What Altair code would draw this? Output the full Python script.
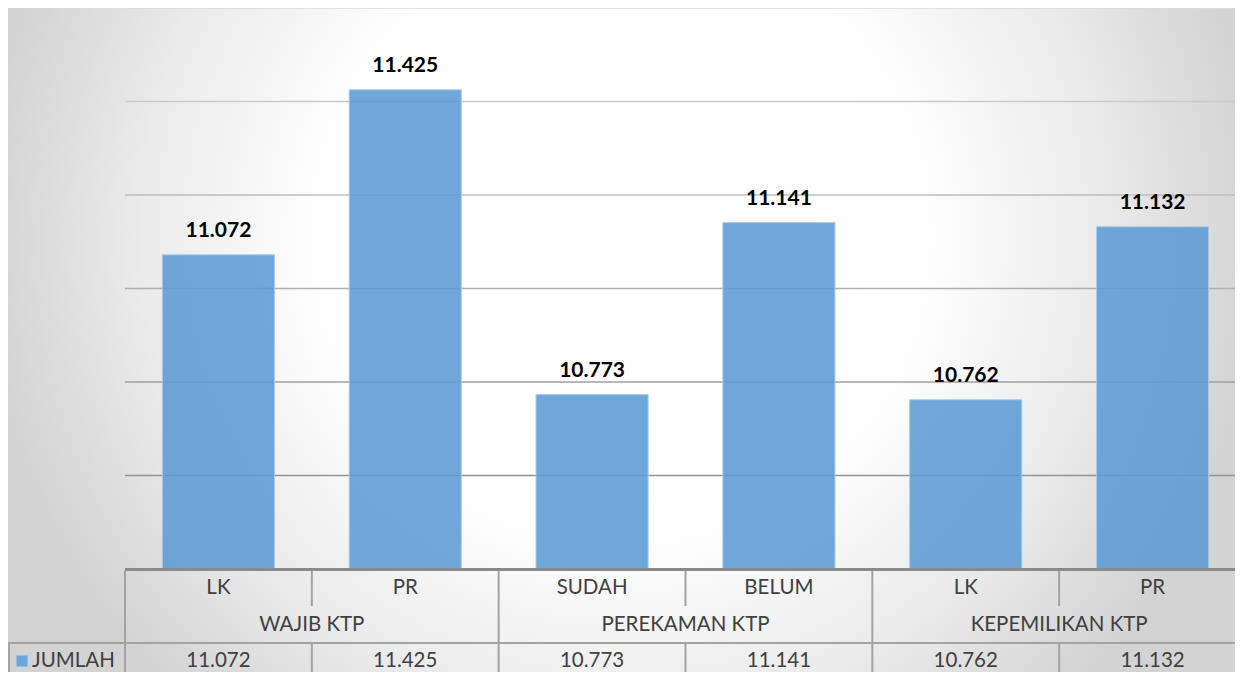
import altair as alt
import pandas as pd

# ---- data ----
groups = ["WAJIB KTP", "WAJIB KTP", "PEREKAMAN KTP", "PEREKAMAN KTP", "KEPEMILIKAN KTP", "KEPEMILIKAN KTP"]
categories = ["LK", "PR", "SUDAH", "BELUM", "LK", "PR"]
values = [11072, 11425, 10773, 11141, 10762, 11132]
y_ticks = [10400, 10600, 10800, 11000, 11200, 11400, 11600]
series_name = "JUMLAH"

keys = [f"{g}|{c}" for g, c in zip(groups, categories)]
pos_in_group = []
seen = {}
for g in groups:
    pos_in_group.append(seen.get(g, 0))
    seen[g] = seen.get(g, 0) + 1

df = pd.DataFrame({
    "key": keys,
    "group": groups,
    "cat": categories,
    "value": values,
    "pos": pos_in_group,
    "label": [f"{v:,}".replace(",", ".") for v in values],
})
group_df = df[df["pos"] == 0][["key", "group"]]
grid_df = pd.DataFrame({"v": y_ticks})
one = pd.DataFrame({"a": [0]})

W, H = 1227, 664          # canvas (fits the window with the 8px page margin)
PLOT_L = 117
RANGE_R = 1238            # x scale continues past the visible edge, as in the reference
AXIS_Y = 561
FONT = "Lato"
TXT = "#404040"
LINE = "#a3a3a3"
BAR = "#5b9bd5"

xs = alt.Scale(type="band", domain=keys, range=[PLOT_L, RANGE_R], paddingInner=0, paddingOuter=0)
ys = alt.Scale(domain=[y_ticks[0], y_ticks[-1]], range=[AXIS_Y, 0], zero=False, nice=False)


def X(f, bp=None):
    if bp is None:
        return alt.X(f, scale=xs, axis=None)
    return alt.X(f, scale=xs, axis=None, bandPosition=bp)


# background: soft radial highlight (rect extends below the canvas to keep the glow round)
bg = alt.Chart(one).mark_rect(
    fill=alt.RadialGradient(
        gradient="radial",
        stops=[alt.GradientStop(color="#ffffff", offset=0),
               alt.GradientStop(color="#fefefe", offset=0.48),
               alt.GradientStop(color="#ebebeb", offset=0.75),
               alt.GradientStop(color="#d3d3d3", offset=1)],
        x1=0.5, y1=0.4, r1=0, x2=0.5, y2=0.4, r2=0.52),
).encode(x=alt.value(0), x2=alt.value(W), y=alt.value(-150), y2=alt.value(850))

grid = alt.Chart(grid_df).transform_filter(alt.datum.v > y_ticks[0]).mark_rule(strokeWidth=1.5).encode(
    y=alt.Y("v:Q", scale=ys, axis=None),
    x=alt.value(PLOT_L), x2=alt.value(W),
    color=alt.Color("v:Q", scale=alt.Scale(domain=[y_ticks[0], y_ticks[-1]], range=["#858585", "#dadada"]), legend=None),
)

bars = alt.Chart(df).mark_bar(width=alt.RelativeBandSize(0.6), color=BAR, fillOpacity=0.88,
                              stroke="#a8cbec", strokeWidth=1).encode(
    x=X("key:N"),
    y=alt.Y("value:Q", scale=ys, axis=None),
    y2=alt.datum(y_ticks[0]),
)

bar_labels = alt.Chart(df).mark_text(font=FONT, fontSize=21, fontWeight="bold", color="#000000",
                                     baseline="alphabetic", dy=-18).encode(
    x=X("key:N"), y=alt.Y("value:Q", scale=ys, axis=None), text="label:N")

axis_line = alt.Chart(one).mark_rule(color="#8a8a8a", strokeWidth=3).encode(
    x=alt.value(PLOT_L), x2=alt.value(W), y=alt.value(AXIS_Y + 0.5))

row_line = alt.Chart(one).mark_rule(color=LINE, strokeWidth=2).encode(
    x=alt.value(0), x2=alt.value(W), y=alt.value(635))
left_box = alt.Chart(one).mark_rule(color=LINE, strokeWidth=2).encode(
    x=alt.value(1), y=alt.value(635), y2=alt.value(H))

group_div = alt.Chart(df).transform_filter(alt.datum.pos == 0).mark_rule(color=LINE, strokeWidth=2).encode(
    x=X("key:N", 0), y=alt.value(563), y2=alt.value(H))
cat_div_top = alt.Chart(df).transform_filter(alt.datum.pos > 0).mark_rule(color=LINE, strokeWidth=2).encode(
    x=X("key:N", 0), y=alt.value(563), y2=alt.value(598))
cat_div_bot = alt.Chart(df).transform_filter(alt.datum.pos > 0).mark_rule(color=LINE, strokeWidth=2).encode(
    x=X("key:N", 0), y=alt.value(635), y2=alt.value(H))

cat_text = alt.Chart(df).mark_text(font=FONT, fontSize=20.5, color=TXT, baseline="middle").encode(
    x=X("key:N"), y=alt.value(580), text="cat:N")
grp_text = alt.Chart(group_df).mark_text(font=FONT, fontSize=20.5, color=TXT, baseline="middle").encode(
    x=X("key:N", 1), y=alt.value(617), text="group:N")
val_text = alt.Chart(df).mark_text(font=FONT, fontSize=20.5, color=TXT, baseline="middle").encode(
    x=X("key:N"), y=alt.value(653), text="label:N")

legend_sq = alt.Chart(one).mark_square(size=144, color="#6fa6d9", stroke="#b5d3ef", strokeWidth=1, opacity=1).encode(
    x=alt.value(14), y=alt.value(653))
legend_txt = alt.Chart(pd.DataFrame({"s": [series_name]})).mark_text(
    font=FONT, fontSize=20.5, color=TXT, align="left", baseline="middle").encode(
    x=alt.value(24), y=alt.value(653), text="s:N")

chart = alt.layer(
    bg, grid, bars, bar_labels, axis_line, row_line, left_box,
    group_div, cat_div_top, cat_div_bot, cat_text, grp_text, val_text, legend_sq, legend_txt,
).properties(
    width=W, height=H, padding=0, autosize=alt.AutoSizeParams(type="none"),
).configure_view(stroke=None).configure(background="#d6d6d6")

chart.save("out.html", embed_options={"renderer": "svg", "actions": False})
